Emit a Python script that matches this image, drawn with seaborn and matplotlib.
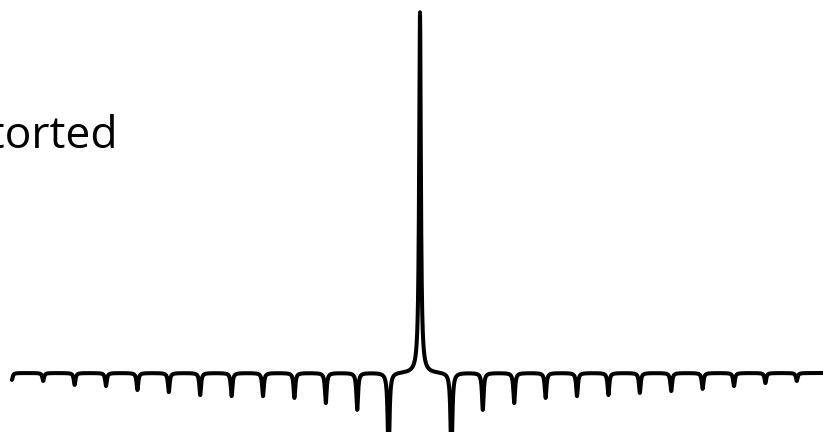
import numpy as np
import pandas as pd
import matplotlib
matplotlib.use("Agg")
import matplotlib.pyplot as plt
import seaborn as sns

sns.set_theme(style="white")
plt.rcParams["font.family"] = ["Open Sans", "DejaVu Sans"]

# Sideband orders (offset from the carrier, in units of the modulation frequency)
sideband_order = [-13, -12, -11, -10, -9, -8, -7, -6, -5, -4, -3, -2, -1,
                  1, 2, 3, 4, 5, 6, 7, 8, 9, 10, 11, 12]
# Depth of each sideband dip (carrier peak = 100)
sideband_depth = [1.9, 2.2, 3.3, 3.6, 4.7, 5.3, 6.1, 6.4, 6.4, 6.9, 8.3, 10.2, 25.0,
                  25.0, 10.2, 8.3, 6.9, 6.4, 6.1, 5.5, 5.0, 4.4, 3.6, 2.8, 2.2]
carrier_height = 100.0
line_halfwidth = 0.032   # Lorentzian half width, same units as the order

# Spectrum built as a sum of Lorentzian lines
freq = np.linspace(-13.0, 13.2, 20001)


def lorentz(x, x0, amp, g):
    return amp * g ** 2 / ((x - x0) ** 2 + g ** 2)


signal = lorentz(freq, 0.0, carrier_height, line_halfwidth)
for k, d in zip(sideband_order, sideband_depth):
    signal -= lorentz(freq, k, d, line_halfwidth)

df = pd.DataFrame({"freq": freq, "signal": signal})

fig = plt.figure(figsize=(8.23, 4.32), dpi=100)
fig.patch.set_facecolor("white")
ax = fig.add_axes([0, 0, 1, 1])
sns.lineplot(data=df, x="freq", y="signal", color="black", linewidth=2.9,
             estimator=None, sort=False, ax=ax)
ax.set_xlim(-420 / 31.4, 403 / 31.4)
ax.set_ylim(-59 / 3.61, 373 / 3.61)
ax.axis("off")

fig.text(118 / 823, 1 - 148 / 432, "Distorted", ha="right", va="baseline",
         fontsize=32, color="black")

fig.savefig("out.png", dpi=100, facecolor="white")
